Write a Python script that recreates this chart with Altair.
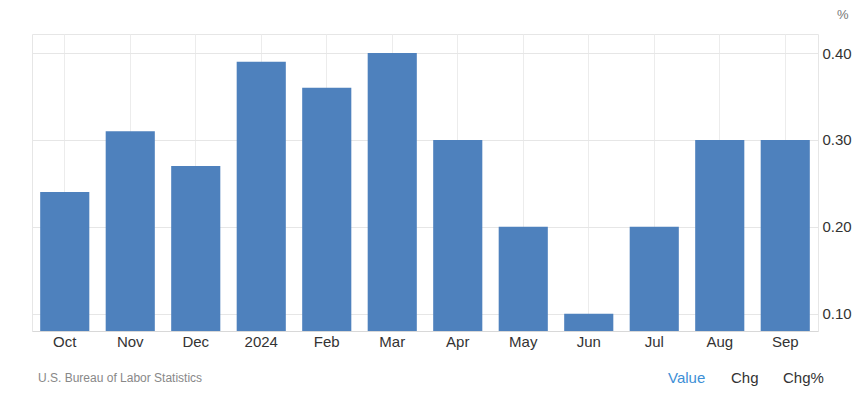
import altair as alt
import pandas as pd

months = ["Oct", "Nov", "Dec", "2024", "Feb", "Mar", "Apr", "May", "Jun", "Jul", "Aug", "Sep"]
values = [0.24, 0.31, 0.27, 0.39, 0.36, 0.40, 0.30, 0.20, 0.10, 0.20, 0.30, 0.30]
y_ticks = [0.10, 0.20, 0.30, 0.40]

df = pd.DataFrame({"month": months, "value": values})

W, H = 786, 297
FONT = "Liberation Sans"

x_enc = alt.X(
    "month:N", sort=months, title=None,
    scale=alt.Scale(paddingInner=0.25, paddingOuter=0.125),
    axis=alt.Axis(labelAngle=0, labelFontSize=15, labelColor="#333333", labelFont=FONT,
                  ticks=False, domain=True, domainColor="#d8d8d8", labelPadding=3,
                  grid=True, gridColor="#ececec", bandPosition=0.5),
)
y_enc = alt.Y(
    "value:Q", title=None,
    scale=alt.Scale(domain=[0.08, 0.422], zero=False, nice=False),
    axis=alt.Axis(orient="right", values=y_ticks, format=".2f", labelFontSize=15,
                  labelColor="#333333", labelFont=FONT, ticks=False, domain=False,
                  labelPadding=4, grid=True, gridColor="#e6e6e6"),
)

bars = alt.Chart(df).mark_bar(color="#4e81bd", clip=True).encode(x=x_enc, y=y_enc)

def label(text, x, y, size, color, align="left"):
    return alt.Chart(pd.DataFrame({"t": [text]})).mark_text(
        align=align, baseline="middle", fontSize=size, color=color, font=FONT
    ).encode(text="t:N", x=alt.value(x), y=alt.value(y))

pct = label("%", 805, -19, 13, "#777777")
src = label("U.S. Bureau of Labor Statistics", 6, 344, 12, "#888888")
val = label("Value", 636, 344, 15, "#3d8fd6")
chg = label("Chg", 699, 344, 15, "#333333")
chgp = label("Chg%", 751, 344, 15, "#333333")

chart = alt.layer(bars, pct, src, val, chg, chgp).properties(
    width=W, height=H,
    autosize=alt.AutoSizeParams(type="none"),
    padding={"left": 32, "top": 34, "right": 49, "bottom": 64},
    background="white",
).configure_view(stroke="#e6e6e6")

chart.save("out.html", embed_options={"renderer": "svg", "actions": False})
